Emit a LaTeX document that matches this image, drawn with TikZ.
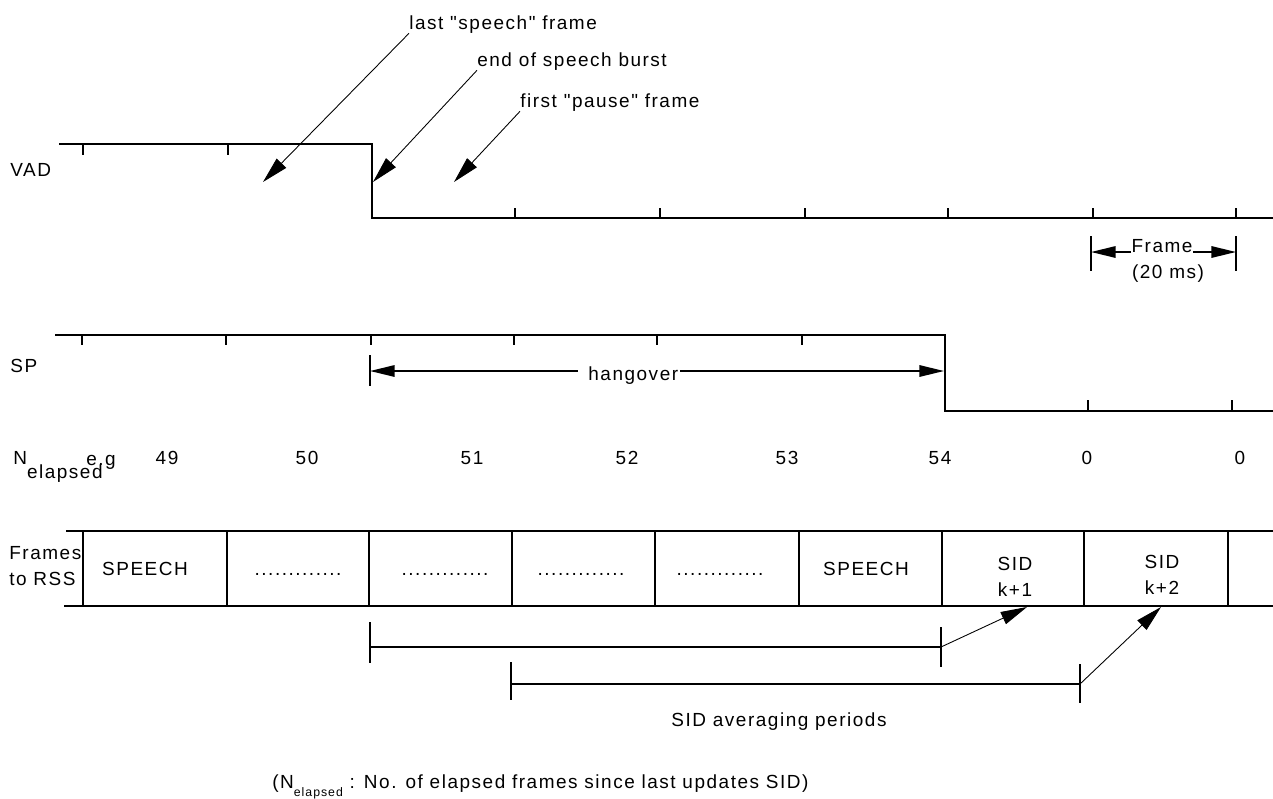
\documentclass[tikz,border=0pt]{standalone}
\usepackage{fontspec}
\setmainfont{Liberation Sans}[LetterSpace=8, Ligatures=TeXOff]
\usetikzlibrary{arrows.meta}

\begin{document}
\begin{tikzpicture}[x=0.02cm, y=-0.02cm,
  every node/.style={font=\fontsize{10.8}{14.7}\selectfont, inner sep=0pt},
  sig/.style={line width=1.1pt},
  tck/.style={line width=0.9pt},
  ptr/.style={line width=0.5pt, -{Triangle[length=15pt,width=7.5pt]}},
  dimarr/.style={line width=1pt, -{Triangle[length=14pt,width=6.5pt]}}]
  \useasboundingbox (0,0) rectangle (1273,798);

  % VAD
  \node[anchor=west] (vad) at (10,170) {VAD};
  \draw[sig] (59,144) -- (372,144) -- (372,218) -- (1273,218);
  \foreach \x in {83,228} \draw[tck] (\x,144) -- (\x,155);
  \foreach \x in {515,660,805,948,1093,1236} \draw[tck] (\x,218) -- (\x,208);

  \node[anchor=base west] (last)  at (409,29)  {last "speech" frame};
  \node[anchor=base west] (burst) at (477,66)  {end of speech burst};
  \node[anchor=base west] (first) at (520,107) {first "pause" frame};
  \coordinate (lastTip)  at (263,182);
  \coordinate (burstTip) at (373,182);
  \coordinate (firstTip) at (454,182);
  \draw[ptr] (last.south west)  -- (lastTip);
  \draw[ptr] (burst.south west) -- (burstTip);
  \draw[ptr] (first.south west) -- (firstTip);

  \coordinate (fL) at (1091,252);
  \coordinate (fR) at (1236,252);
  \draw[tck] (1091,236) -- (1091,271) (1236,236) -- (1236,271);
  \node[anchor=base] (frame) at (1162,252) {Frame};
  \node[anchor=base] (ms) at (1168,278) {(20 ms)};
  \draw[dimarr] (frame.base west) -- (fL);
  \draw[dimarr] (frame.base east) -- (fR);

  % SP
  \node[anchor=west] (sp) at (10,366) {SP};
  \draw[sig] (55,335) -- (945,335) -- (945,411) -- (1273,411);
  \foreach \x in {82,226,371,514,657,802} \draw[tck] (\x,335) -- (\x,345);
  \foreach \x in {1088,1232} \draw[tck] (\x,411) -- (\x,400);

  \coordinate (hL) at (370,371);
  \coordinate (hR) at (944,371);
  \draw[tck] (370,355) -- (370,386);
  \node[anchor=base, inner xsep=6pt, xshift=3pt] (hang) at (628,380) {hangover};
  \draw[dimarr] (hang.west |- hL) -- (hL);
  \draw[dimarr] ([xshift=-5pt]hang.east |- hR) -- (hR);

  % N elapsed
  \node[anchor=base west] (nel) at (13,464) {N\raisebox{-8.5pt}{elapsed}};
  \node[anchor=base west] (eg) at (86,465) {e.g};
  \foreach \x/\n [count=\i] in {167/49,307/50,472/51,627/52,787/53,940/54,1087/0,1240/0}
    \node[anchor=base] (cnt\i) at (\x,464) {\n};

  % frames to RSS
  \node[anchor=west, align=left] (rss) at (9,566) {Frames\\to RSS};
  \draw[sig] (66,531) -- (1273,531);
  \draw[sig] (64,606) -- (1273,606);
  \foreach \x in {83,227,369,512,655,799,942,1084,1228} \draw[sig] (\x,531) -- (\x,606);
  \foreach \x/\t [count=\i] in {145/SPEECH,298/{.............},445/{.............},581/{.............},720/{.............},866/SPEECH}
    \node[anchor=base] (box\i) at (\x,575) {\t};
  \node[align=center] (sidA) at (1015,577) {SID\\k+1};
  \node[align=center] (sidB) at (1162,575) {SID\\k+2};

  % averaging periods
  \coordinate (pA) at (941,647);
  \coordinate (pB) at (1080,684);
  \draw[tck] (370,622) -- (370,663) (941,627) -- (941,667);
  \draw[sig] (370,647) -- (pA);
  \draw[tck] (511,662) -- (511,700) (1080,664) -- (1080,703);
  \draw[sig] (511,684) -- (pB);
  \draw[ptr] (pA) -- (1027,607);
  \draw[ptr] (pB) -- (1161,607);
  \node (avg) at (779,722) {SID averaging periods};

  \node[anchor=base west] (note) at (272,788)
    {(N\raisebox{-5pt}{\fontsize{7}{8}\selectfont elapsed} : No. of elapsed frames since last updates SID)};
\end{tikzpicture}
\end{document}
